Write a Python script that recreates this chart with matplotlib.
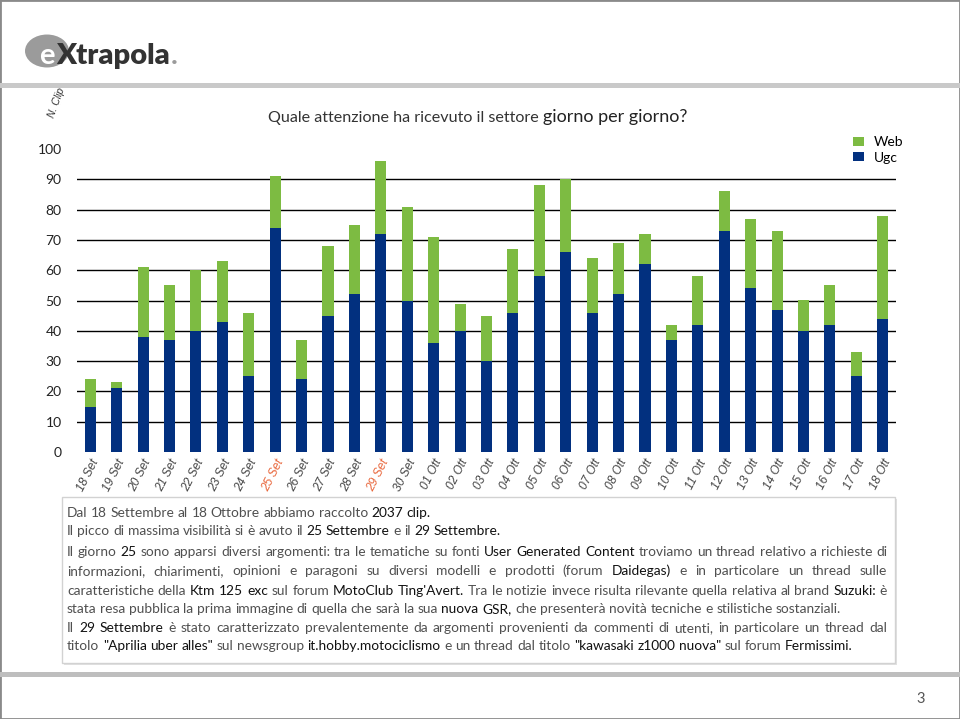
import numpy as np
import matplotlib
matplotlib.use('Agg')
import matplotlib.pyplot as plt
from matplotlib.patches import Rectangle, Circle

# data
days = ['18 Set', '19 Set', '20 Set', '21 Set', '22 Set', '23 Set', '24 Set', '25 Set',
        '26 Set', '27 Set', '28 Set', '29 Set', '30 Set', '01 Ott', '02 Ott', '03 Ott',
        '04 Ott', '05 Ott', '06 Ott', '07 Ott', '08 Ott', '09 Ott', '10 Ott', '11 Ott',
        '12 Ott', '13 Ott', '14 Ott', '15 Ott', '16 Ott', '17 Ott', '18 Ott']
ugc = [15, 21, 38, 37, 40, 43, 25, 74, 24, 45, 52, 72, 50, 36, 40, 30,
       46, 58, 66, 46, 52, 62, 37, 42, 73, 54, 47, 40, 42, 25, 44]
web = [9, 2, 23, 18, 20, 20, 21, 17, 13, 23, 23, 24, 31, 35, 9, 15,
       21, 30, 24, 18, 17, 10, 5, 16, 13, 23, 26, 10, 13, 8, 34]
peak_days = ['25 Set', '29 Set']
yticks = [0, 10, 20, 30, 40, 50, 60, 70, 80, 90, 100]

title_a = 'Quale attenzione ha ricevuto il settore '
title_b = 'giorno per giorno?'

# *...* = darker keyword
notes = [
    ('Dal 18 Settembre al 18 Ottobre abbiamo raccolto *2037 clip.*', False),
    ('Il picco di massima visibilità si è avuto il *25 Settembre* e il *29 Settembre.*', False),
    ('Il giorno *25* sono apparsi diversi argomenti: tra le tematiche su fonti *User Generated Content* '
     'troviamo un thread relativo a richieste di', True),
    ('informazioni, chiarimenti, opinioni e paragoni su diversi modelli e prodotti (forum *Daidegas)* '
     'e in particolare un thread sulle', True),
    ("caratteristiche della *Ktm 125 exc* sul forum *MotoClub Ting'Avert.* Tra le notizie invece risulta "
     'rilevante quella relativa al brand *Suzuki:* è', True),
    ('stata resa pubblica la prima immagine di quella che sarà la sua *nuova GSR,* che presenterà novità '
     'tecniche e stilistiche sostanziali.', False),
    ('Il *29 Settembre* è stato caratterizzato prevalentemente da argomenti provenienti da commenti di '
     'utenti, in particolare un thread dal', True),
    ('titolo *"Aprilia uber alles"* sul newsgroup *it.hobby.motociclismo* e un thread dal titolo '
     '*"kawasaki z1000 nuova"* sul forum *Fermissimi.*', False),
]
note_y = [512, 530, 551, 570, 590, 608, 627, 645]

GREEN = '#7DBB42'
NAVY = '#02307F'
GRAY = '#505050'
DARK = '#111111'
W, H = 960, 719


def fx(x):
    return x / W


def fy(y):
    return 1 - y / H


fig = plt.figure(figsize=(9.6, 7.19), dpi=100)

# slide frame and bands
fig.patches.append(Rectangle((0, 0), 1, 1, transform=fig.transFigure, fill=False,
                             edgecolor='#8A8A8A', lw=2))
fig.patches.append(Rectangle((0, fy(88)), 1, 5 / H, transform=fig.transFigure,
                             color='#C9C9C9', lw=0))
fig.patches.append(Rectangle((0, fy(677)), 1, 5 / H, transform=fig.transFigure,
                             color='#BEBEBE', lw=0))

# logo
fig.patches.append(Circle((fx(47), fy(51)), 22 / W, transform=fig.transFigure,
                          color='#9B9B9B', lw=0))
fig.text(fx(39), fy(64), 'e', fontsize=21, fontweight='bold', color='white', family='Lato')
fig.text(fx(56), fy(64), 'Xtrapola', fontsize=21, fontweight='heavy', color='#333333', family='Lato')
fig.text(fx(171), fy(64), '.', fontsize=21, fontweight='bold', color='#9B9B9B', family='Lato')

# chart
ax = fig.add_axes([fx(77), fy(452), (896 - 77) / W, (452 - 149) / H])
x = np.arange(len(days))
b_ugc = ax.bar(x, ugc, width=0.42, color=NAVY, zorder=2, label='Ugc')
b_web = ax.bar(x, web, bottom=ugc, width=0.42, color=GREEN, zorder=2, label='Web')
for v in yticks[1:-1]:
    ax.axhline(v, color='black', lw=1, zorder=1)
ax.set_xlim(-0.5, len(days) - 0.5)
ax.set_ylim(0, 100)
ax.set_yticks(yticks)
ax.tick_params(axis='y', length=0, pad=11, labelsize=10, labelcolor='#222222')
for lab in ax.get_yticklabels():
    lab.set_family('Lato')
ax.set_xticks(x)
ax.set_xticklabels(days, rotation=63, ha='right', va='top', rotation_mode='anchor',
                   fontsize=8.6, style='italic', family='Liberation Sans')
ax.tick_params(axis='x', length=0, pad=4)
for lab in ax.get_xticklabels():
    lab.set_color('#E8653A' if lab.get_text() in peak_days else '#444444')
for s in ax.spines.values():
    s.set_visible(False)

ax.legend(handles=[b_web, b_ugc], loc='upper left', bbox_to_anchor=(fx(840), fy(124)),
          bbox_transform=fig.transFigure, frameon=False, handlelength=0.8, handleheight=0.68,
          handletextpad=0.75, labelspacing=0.22, prop={'family': 'Lato', 'size': 10})

fig.text(fx(57), fy(103), 'N. Clip', rotation=70, style='italic', fontsize=7.5,
         family='Liberation Sans', color='#333333', ha='center', va='center')

# title
t1 = fig.text(fx(268), fy(122), title_a, fontsize=11.6, family='Lato', color='#333333')
fig.canvas.draw()
r = fig.canvas.get_renderer()
tw = t1.get_window_extent(r).width
fig.text(fx(268) + tw / W, fy(122), title_b, fontsize=13, family='Lato', color='#222222')

# note box
fig.patches.append(Rectangle((fx(64), fy(665)), (897 - 64) / W, 166 / H, transform=fig.transFigure,
                             facecolor='#E2E2E2', lw=0))
fig.patches.append(Rectangle((fx(62), fy(663)), (895 - 62) / W, 166 / H, transform=fig.transFigure,
                             facecolor='white', edgecolor='#D2D2D2', lw=1))

FS = 9.9


def text_w(s):
    # advance width, bracketed to avoid glyph bearing effects
    a = fig.text(0, 0, 'H' + s + 'H', fontsize=FS, family='Lato')
    b = fig.text(0, 0, 'HH', fontsize=FS, family='Lato')
    w = a.get_window_extent(r).width - b.get_window_extent(r).width
    a.remove()
    b.remove()
    return w


def draw_line(line, x0, y, x1, justify):
    words = []
    for k, part in enumerate(line.split('*')):
        color = DARK if k % 2 else GRAY
        words += [(w, color) for w in part.split(' ') if w]
    widths = [text_w(w) for w, c in words]
    space = text_w(' ')
    gap = (x1 - x0 - sum(widths)) / (len(words) - 1) if justify else space
    xx = x0
    for (w, c), wdt in zip(words, widths):
        fig.text(fx(xx), fy(y), w, fontsize=FS, family='Lato', color=c, va='baseline')
        xx += wdt + gap


for (line, just), yy in zip(notes, note_y):
    draw_line(line, 67, yy + 5, 887, just)

fig.text(fx(921), fy(703), '3', fontsize=10.5, family='Lato', color='#555555', ha='center')

fig.savefig('out.png', dpi=100)
